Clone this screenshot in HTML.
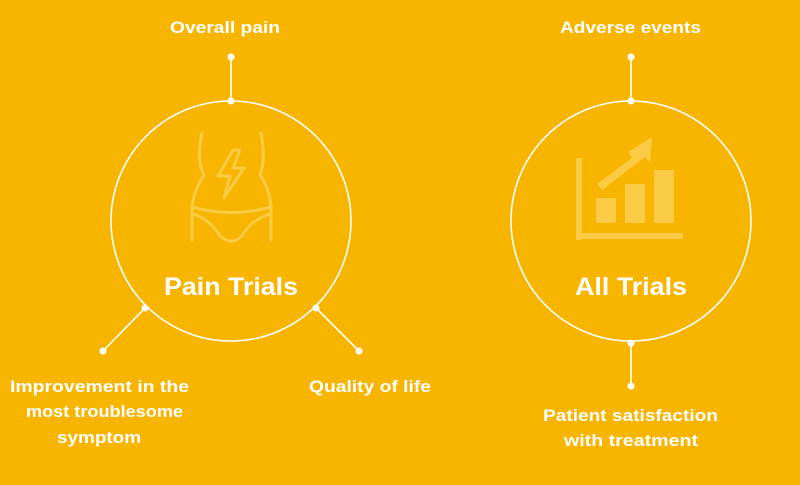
<!DOCTYPE html>
<html><head><meta charset="utf-8"><style>
body{margin:0;background:#F8B500;}
svg{display:block}
text{font-family:"Liberation Sans",sans-serif;font-weight:bold;fill:#fff;text-anchor:middle}
</style></head><body>
<svg width="800" height="485" viewBox="0 0 800 485">
<rect width="800" height="485" fill="#F8B500"/>
<g stroke="#fff" stroke-width="1.6" fill="none">
<circle cx="231" cy="221" r="120"/>
<circle cx="631" cy="221" r="120"/>
<line x1="231" y1="57" x2="231" y2="101"/>
<line x1="145" y1="308" x2="103" y2="351"/>
<line x1="316" y1="308" x2="359" y2="351"/>
<line x1="631" y1="57" x2="631" y2="101"/>
<line x1="631" y1="343" x2="631" y2="386"/>
</g>
<g fill="#fff">
<circle cx="231" cy="57" r="3.5"/><circle cx="231" cy="101" r="3.5"/>
<circle cx="145" cy="308" r="3.5"/><circle cx="103" cy="351" r="3.5"/>
<circle cx="316" cy="308" r="3.5"/><circle cx="359" cy="351" r="3.5"/>
<circle cx="631" cy="57" r="3.5"/><circle cx="631" cy="101" r="3.5"/>
<circle cx="631" cy="343" r="3.5"/><circle cx="631" cy="386" r="3.5"/>
</g>
<g stroke="#FBCB45" stroke-width="3" fill="none" stroke-linecap="round" stroke-linejoin="round">
<path d="M202 133 Q196 160 204 175 Q194 190 192 207 L192 240"/>
<path d="M261 133 Q266 160 260 175 Q270 190 271 207 L271 240"/>
<path d="M192 207 Q231 218 271 207"/>
<path d="M193 214 Q211 220 220 236 Q231 246 242 236 Q251 220 270 214"/>
<path d="M233 150 L218 176 L230 176 L224 198 L244 168 L233 168 L240 150 Z"/>
</g>
<g fill="#FBCB45">
<rect x="576" y="158" width="6" height="82"/>
<rect x="576" y="233" width="107" height="6"/>
<rect x="596" y="198" width="20" height="25"/>
<rect x="625" y="184" width="20" height="39"/>
<rect x="654" y="170" width="20" height="53"/>
<path d="M597 184 L632 158 L628 152 L652 137 L650 163 L645 157 L602 190 Z"/>
</g>
<g font-size="17" lengthAdjust="spacingAndGlyphs">
<text x="225" y="33" textLength="110" lengthAdjust="spacingAndGlyphs">Overall pain</text>
<text x="630.5" y="33" textLength="141" lengthAdjust="spacingAndGlyphs">Adverse events</text>
<text x="99.5" y="392" textLength="179" lengthAdjust="spacingAndGlyphs">Improvement in the</text>
<text x="104.5" y="417" textLength="157" lengthAdjust="spacingAndGlyphs">most troublesome</text>
<text x="99" y="443" textLength="84" lengthAdjust="spacingAndGlyphs">symptom</text>
<text x="370" y="392" textLength="122" lengthAdjust="spacingAndGlyphs">Quality of life</text>
<text x="630.5" y="421" textLength="175" lengthAdjust="spacingAndGlyphs">Patient satisfaction</text>
<text x="631" y="446" textLength="134" lengthAdjust="spacingAndGlyphs">with treatment</text>
</g>
<g font-size="25">
<text x="231" y="295" textLength="134" lengthAdjust="spacingAndGlyphs">Pain Trials</text>
<text x="631" y="295" textLength="112" lengthAdjust="spacingAndGlyphs">All Trials</text>
</g>
</svg>
</body></html>
